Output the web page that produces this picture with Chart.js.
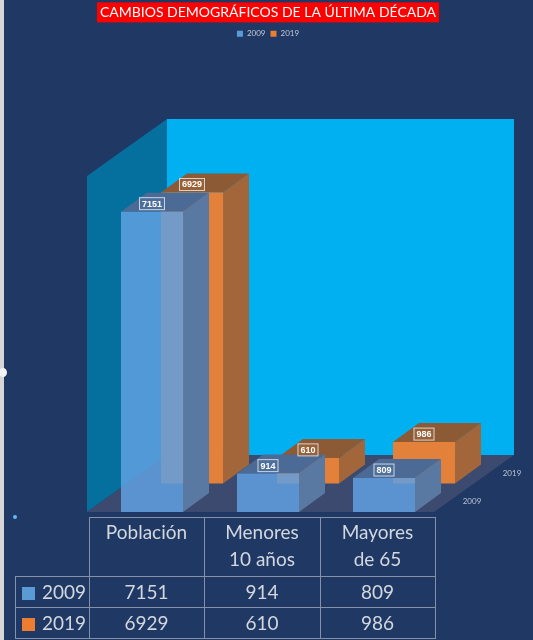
<!DOCTYPE html>
<html>
<head>
<meta charset="utf-8">
<script src="https://cdn.jsdelivr.net/npm/chart.js@4.4.1/dist/chart.umd.min.js"></script>
<style>
  html, body { margin: 0; padding: 0; background: #1f3864; }
  #wrap { position: relative; width: 533px; height: 640px; overflow: hidden; }
  #chart { position: absolute; left: 0; top: 0; }
  #strip { position: absolute; left: 0; top: 0; width: 4px; height: 640px; background: #d6d6d6; }
  #knob { position: absolute; left: -1px; top: 368px; width: 8px; height: 9px; border-radius: 50%; background: #f4f4f4; }
  #dot { position: absolute; left: 13px; top: 515px; width: 4px; height: 4px; border-radius: 50%; background: #63b8f5; }
  #table { position: absolute; left: 15px; top: 517px; border-collapse: collapse; color: #d3d7de;
           font-family: Lato, "Open Sans", sans-serif; font-size: 19px; }
  #table td { border: 1px solid #8591a8; text-align: center; padding: 0; }
  #table tr.head td { vertical-align: top; line-height: 27px; height: 58px; }
  #table tr.head td.corner { border: none; }
  #table tr.row td { height: 30px; line-height: 30px; }
  #table td.key { text-align: left; padding-left: 6px; }
  #table td.key span { display: inline-block; width: 13px; height: 13px; margin-right: 7px; vertical-align: -1px; }
</style>
</head>
<body>
<div id="wrap">
  <canvas id="chart" width="533" height="640"></canvas>
  <table id="table"></table>
  <div id="strip"></div>
  <div id="knob"></div>
  <div id="dot"></div>
</div>
<script>
var categories = [['Población'], ['Menores', '10 años'], ['Mayores', 'de 65']];
var seriesNames = ['2009', '2019'];
var values2009 = [7151, 914, 809];
var values2019 = [6929, 610, 986];
var yMax = 8000;

var titleText = 'CAMBIOS DEMOGRÁFICOS DE LA ÚLTIMA DÉCADA';

// colours of the box faces
var faces = [
    { front: 'rgba(96,160,224,0.85)', side: '#5a79a2', top: '#4b6a95', key: '#5b9bd5' },
    { front: '#e3803a', side: '#a3663a', top: '#8c5a34', key: '#ed7d31' }
];

// 3d geometry (pixels)
var depthX = 80, depthY = -57;
var rowX = depthX / 2, rowY = depthY / 2;
var barDX = 26, barDY = -19;
var frameShiftL = -7, frameShiftR = -8;

function poly(ctx, pts, color) {
    ctx.beginPath();
    ctx.moveTo(pts[0][0], pts[0][1]);
    for (var i = 1; i < pts.length; i++) {
        ctx.lineTo(pts[i][0], pts[i][1]);
    }
    ctx.closePath();
    ctx.fillStyle = color;
    ctx.fill();
}

var redTitle = {
    id: 'redTitle',
    beforeDraw: function (chart) {
        var ctx = chart.ctx;
        var tb = chart.titleBlock;
        var font = Chart.helpers.toFont(chart.options.plugins.title.font);
        ctx.save();
        ctx.font = font.string;
        var w = ctx.measureText(titleText).width + 6;
        var cx = (tb.left + tb.right) / 2;
        var cy = tb.top + tb.options.padding.top + font.lineHeight / 2;
        ctx.fillStyle = '#ff0000';
        ctx.fillRect(cx - w / 2, cy - 10, w, 20);
        ctx.restore();
    }
};

var box3d = {
    id: 'box3d',
    beforeDatasetsDraw: function (chart) {
        var ctx = chart.ctx;
        var a = chart.chartArea;
        var y = chart.scales.y;
        var fl = a.left + frameShiftL, fr = a.right + frameShiftR;
        var b = y.getPixelForValue(0), t = y.getPixelForValue(yMax);
        ctx.save();
        // back wall
        poly(ctx, [[fl + depthX, t + depthY], [fr + depthX, t + depthY], [fr + depthX, b + depthY], [fl + depthX, b + depthY]], '#00b0f0');
        // side wall
        poly(ctx, [[fl, b], [fl, t], [fl + depthX, t + depthY], [fl + depthX, b + depthY]], '#05709e');
        // floor
        poly(ctx, [[fl, b], [fr, b], [fr + depthX, b + depthY], [fl + depthX, b + depthY]], '#3b4a6e');
        // series names along depth
        ctx.fillStyle = '#bcc4d3';
        ctx.font = '8px Lato, "Open Sans", sans-serif';
        ctx.textAlign = 'center';
        ctx.textBaseline = 'middle';
        for (var i = 0; i < seriesNames.length; i++) {
            var cxr = fr + rowX * (i + 0.5) + 18;
            var cyr = b + rowY * (i + 0.5) + 4;
            ctx.fillText(seriesNames[i], cxr, cyr);
        }
        ctx.restore();
    },
    beforeDatasetDraw: function (chart, args) {
        var ctx = chart.ctx;
        var i = args.index;
        var f = faces[i];
        ctx.save();
        ctx.translate(rowX * i, rowY * i);
        args.meta.data.forEach(function (bar) {
            var p = bar.getProps(['x', 'y', 'base', 'width'], true);
            var l = p.x - p.width / 2, r = p.x + p.width / 2;
            poly(ctx, [[r, p.y], [r + barDX, p.y + barDY], [r + barDX, p.base + barDY], [r, p.base]], f.side);
            poly(ctx, [[l, p.y], [r, p.y], [r + barDX, p.y + barDY], [l + barDX, p.y + barDY]], f.top);
        });
    },
    afterDatasetDraw: function (chart) {
        chart.ctx.restore();
    },
    afterDatasetsDraw: function (chart) {
        var ctx = chart.ctx;
        ctx.save();
        ctx.font = 'bold 9px "Liberation Sans", sans-serif';
        ctx.textAlign = 'center';
        ctx.textBaseline = 'middle';
        for (var i = chart.data.datasets.length - 1; i >= 0; i--) {
            var meta = chart.getDatasetMeta(i);
            var vals = chart.data.datasets[i].data;
            meta.data.forEach(function (bar, j) {
                var p = bar.getProps(['x', 'y'], true);
                var txt = String(vals[j]);
                var w = ctx.measureText(txt).width + 6;
                var cx = p.x + rowX * i;
                var cy = p.y + rowY * i - 8;
                ctx.fillStyle = i === 0 ? 'rgba(80,115,160,0.6)' : 'rgba(160,100,55,0.6)';
                ctx.fillRect(cx - w / 2, cy - 6.5, w, 13);
                ctx.strokeStyle = 'rgba(225,230,240,0.85)';
                ctx.lineWidth = 1;
                ctx.strokeRect(cx - w / 2 + 0.5, cy - 6.5 + 0.5, w - 1, 12);
                ctx.fillStyle = '#ffffff';
                ctx.fillText(txt, cx, cy + 0.5);
            });
        }
        ctx.restore();
    }
};

var ctx = document.getElementById('chart').getContext('2d');
var myChart = new Chart(ctx, {
    type: 'bar',
    data: {
        labels: categories,
        datasets: [{
                label: seriesNames[0],
                data: values2009,
                backgroundColor: faces[0].front,
                grouped: false,
                clip: false
            }, {
                label: seriesNames[1],
                data: values2019,
                backgroundColor: faces[1].front,
                grouped: false,
                clip: false
            }]
    },
    options: {
        responsive: false,
        animation: false,
        events: [],
        layout: {
            padding: { left: 94, right: 91, top: 0, bottom: 128 }
        },
        datasets: {
            bar: { categoryPercentage: 1, barPercentage: 0.535, borderWidth: 0 }
        },
        scales: {
            x: { display: false },
            y: { display: false, min: 0, max: yMax }
        },
        plugins: {
            title: {
                display: true,
                text: titleText,
                color: '#ffffff',
                font: { family: 'Lato, "Open Sans", sans-serif', size: 14, weight: 'normal' },
                padding: { top: 4, bottom: 4 }
            },
            legend: {
                display: true,
                position: 'top',
                weight: 1800,
                labels: {
                    color: '#c3cad8',
                    font: { family: 'Lato, "Open Sans", sans-serif', size: 8 },
                    boxWidth: 6,
                    boxHeight: 6,
                    padding: 5,
                    generateLabels: function (chart) {
                        return seriesNames.map(function (n, i) {
                            return { text: n, fillStyle: faces[i].key, strokeStyle: faces[i].key, lineWidth: 0, datasetIndex: i, fontColor: '#c3cad8' };
                        });
                    }
                }
            },
            subtitle: {
                display: true,
                text: '',
                font: { size: 1 },
                padding: { top: 0, bottom: 127 }
            },
            tooltip: { enabled: false }
        }
    },
    plugins: [redTitle, box3d]
});

// data table under the chart
var table = document.getElementById('table');
var colWidths = [73, 115, 116, 115];
var html = '<tr class="head"><td class="corner" style="width:' + colWidths[0] + 'px"></td>';
categories.forEach(function (c, j) {
    html += '<td style="width:' + (colWidths[j + 1] - 1) + 'px">' + c.join('<br>') + '</td>';
});
html += '</tr>';
[values2009, values2019].forEach(function (vals, i) {
    html += '<tr class="row"><td class="key"><span style="background:' + faces[i].key + '"></span>' + seriesNames[i] + '</td>';
    vals.forEach(function (v) {
        html += '<td>' + v + '</td>';
    });
    html += '</tr>';
});
table.innerHTML = html;
</script>
</body>
</html>
